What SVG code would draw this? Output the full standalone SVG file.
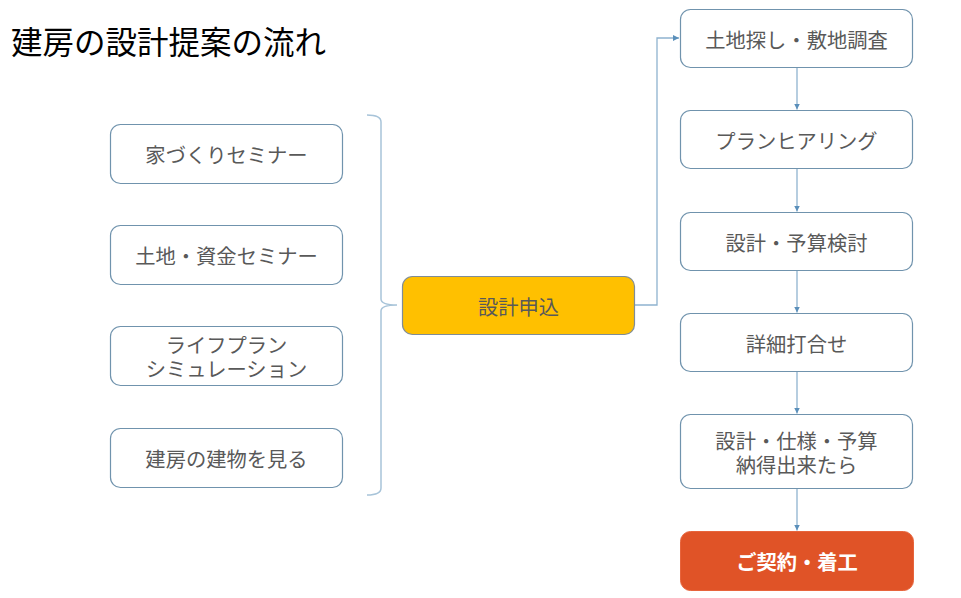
<svg xmlns="http://www.w3.org/2000/svg" width="961" height="598" viewBox="0 0 961 598">
<defs>
<marker id="arr" viewBox="0 0 10 10" refX="10" refY="5" markerWidth="6" markerHeight="6" orient="auto" markerUnits="userSpaceOnUse">
<path d="M0,0 L10,5 L0,10 z" fill="#5a8fba"/>
</marker>
<style>
text{font-family:"Noto Sans CJK JP","Noto Sans",sans-serif;}
.box{fill:#ffffff;stroke:#7093ad;stroke-width:1.2;}
.lbl{font-size:20.3px;fill:#595959;text-anchor:middle;dominant-baseline:central;}
.con{fill:none;stroke:#8fb3cf;stroke-width:1.3;}
.brace{fill:none;stroke:#a8c4d9;stroke-width:1.5;}
</style>
</defs>
<rect width="961" height="598" fill="#ffffff"/>
<text id="title" x="11" y="40" font-size="31.5" fill="#000000" dominant-baseline="central">建房の設計提案の流れ</text>

<g id="connectors">
<path class="brace" d="M367,115 Q381,115 381,122 V299 Q381,305 397,305 Q381,305 381,311 V488 Q381,495 367,495"/>
<path class="con" d="M635,305 H657 V38 H679" marker-end="url(#arr)"/>
<path class="con" d="M797,68 V109.5" marker-end="url(#arr)"/>
<path class="con" d="M797,169 V211.5" marker-end="url(#arr)"/>
<path class="con" d="M797,271 V312.5" marker-end="url(#arr)"/>
<path class="con" d="M797,372 V413.5" marker-end="url(#arr)"/>
<path class="con" d="M797,489 V530.5" marker-end="url(#arr)"/>
</g>

<g id="n-seminar1"><rect class="box" x="110.5" y="124.5" width="232" height="59" rx="10"/><text class="lbl" x="226.5" y="154">家づくりセミナー</text></g>
<g id="n-seminar2"><rect class="box" x="110.5" y="225.5" width="232" height="59" rx="10"/><text class="lbl" x="226.5" y="255">土地・資金セミナー</text></g>
<g id="n-lifeplan"><rect class="box" x="110.5" y="326.5" width="232" height="59" rx="10"/><text class="lbl"><tspan x="226.5" y="343.5">ライフプラン</tspan><tspan x="226.5" y="368">シミュレーション</tspan></text></g>
<g id="n-visit"><rect class="box" x="110.5" y="428.5" width="232" height="59" rx="10"/><text class="lbl" x="226.5" y="458">建房の建物を見る</text></g>

<g id="n-apply"><rect x="402.5" y="276.5" width="232" height="58" rx="10" fill="#ffc000" stroke="#7f8c97" stroke-width="1.2"/><text class="lbl" x="518.5" y="305.5">設計申込</text></g>

<g id="n-land"><rect class="box" x="680.5" y="9.5" width="232" height="58" rx="10"/><text class="lbl" x="796.5" y="38.5">土地探し・敷地調査</text></g>
<g id="n-hearing"><rect class="box" x="680.5" y="110.5" width="232" height="58" rx="10"/><text class="lbl" x="796.5" y="139.5">プランヒアリング</text></g>
<g id="n-budget"><rect class="box" x="680.5" y="212.5" width="232" height="58" rx="10"/><text class="lbl" x="796.5" y="241.5">設計・予算検討</text></g>
<g id="n-detail"><rect class="box" x="680.5" y="313.5" width="232" height="58" rx="10"/><text class="lbl" x="796.5" y="342.5">詳細打合せ</text></g>
<g id="n-agree"><rect class="box" x="680.5" y="414.5" width="232" height="74" rx="10"/><text class="lbl"><tspan x="796.5" y="440">設計・仕様・予算</tspan><tspan x="796.5" y="463.5">納得出来たら</tspan></text></g>
<g id="n-contract"><rect x="680.5" y="531.5" width="233" height="59" rx="10" fill="#e05327" stroke="#e7643c" stroke-width="1"/><text x="797" y="561" font-size="20.3" font-weight="bold" fill="#ffffff" text-anchor="middle" dominant-baseline="central">ご契約・着工</text></g>
</svg>
